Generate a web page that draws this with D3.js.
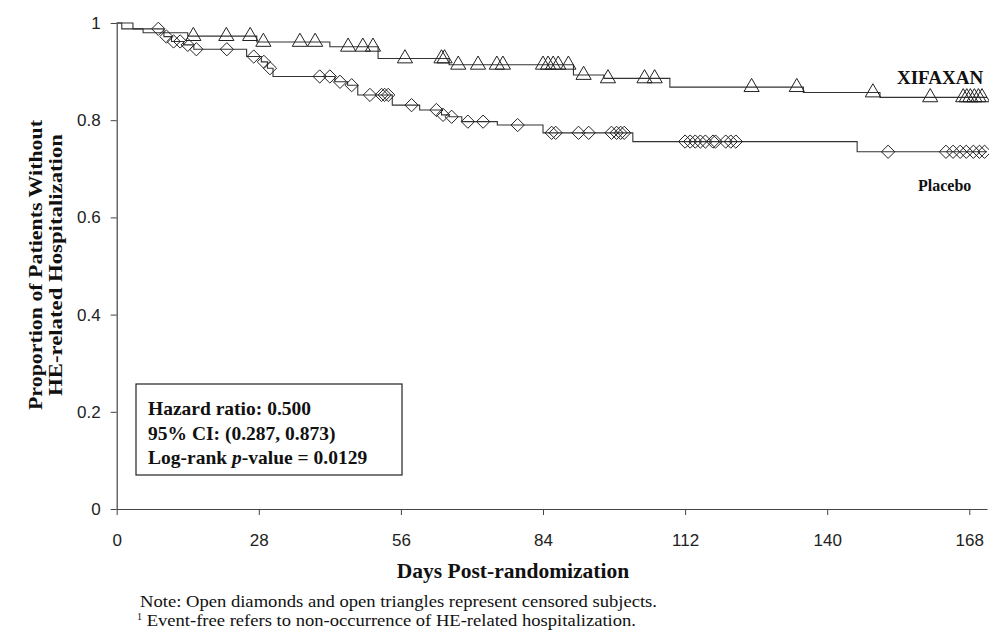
<!DOCTYPE html>
<html>
<head>
<meta charset="utf-8">
<script src="https://cdn.jsdelivr.net/npm/d3@7"></script>
<style>
  body { margin: 0; background: #fff; }
  svg { display: block; }
</style>
</head>
<body>
<script>
const xTicks = [0, 28, 56, 84, 112, 140, 168];
const yTicks = [0, 0.2, 0.4, 0.6, 0.8, 1];
const yTickLabels = ["0", "0.2", "0.4", "0.6", "0.8", "1"];

// [day, proportion event-free from that day on]
const xifaxanSteps = [[0, 1], [3.2, 0.988], [5.2, 0.98], [14, 0.973], [27.6, 0.961], [42, 0.951],
  [51.5, 0.927], [65.5, 0.914], [90, 0.893], [96, 0.886], [109, 0.868], [135.3, 0.857], [150.4, 0.847]];
const xifaxanCensored = [15.1, 21.6, 26.3, 28.9, 36.1, 39.1, 45.6, 48.5, 50.5, 56.8, 64, 64.6, 67.3,
  71.2, 74.9, 76.1, 84, 85, 86, 87, 89, 92, 96.8, 104, 106, 125.1, 134, 149, 160.3,
  166.8, 167.5, 168.2, 169, 169.8, 170.5];

const placeboSteps = [[0, 1], [1, 0.988], [9.3, 0.972], [10.8, 0.962], [13.2, 0.955], [15.2, 0.946],
  [25.6, 0.931], [28.5, 0.92], [29.7, 0.907], [30.8, 0.89], [43, 0.879], [45.5, 0.872], [47.5, 0.852],
  [54.3, 0.831], [59.7, 0.821], [64, 0.811], [65.5, 0.807], [68, 0.797], [75, 0.79], [84, 0.774],
  [101.7, 0.756], [145.9, 0.735]];
const placeboCensored = [8.2, 9.8, 11.2, 12.5, 14, 15.7, 21.7, 27, 29, 30.2, 40, 42, 44, 46.3, 49.9,
  52.2, 52.8, 53.5, 58.1, 63, 64.3, 66, 69.2, 72.2, 79, 85.7, 86.5, 91, 93, 97.5, 98.5, 99.3, 100,
  112, 113, 114, 115, 116, 117.5, 118, 120, 121, 122, 152, 163.4, 164.8, 166.2, 167.4, 168.8, 170, 171];

const lastDay = 171.5;
const statLines = ["Hazard ratio: 0.500", "95% CI: (0.287, 0.873)", "Log-rank |p|-value = 0.0129"];
const yTitle = ["Proportion of Patients Without", "HE-related Hospitalization"];
const notes = ["Note: Open diamonds and open triangles represent censored subjects.",
  "Event-free refers to non-occurrence of HE-related hospitalization."];

const w = 989, h = 633;
const serif = "'Liberation Serif', 'Times New Roman', serif";
const sans = "'Liberation Sans', Arial, sans-serif";

const svg = d3.select("body").append("svg").attr("width", w).attr("height", h);

const x = d3.scaleLinear().domain([0, lastDay]).range([116.7, 116.7 + lastDay * 5.075]);
const y = d3.scaleLinear().domain([0, 1]).range([509, 23]);

// axes
const xAxis = svg.append("g")
  .attr("transform", "translate(0,509)")
  .call(d3.axisBottom(x).tickValues(xTicks).tickSize(6).tickPadding(19).tickSizeOuter(0));
const yAxis = svg.append("g")
  .attr("transform", "translate(116.7,0)")
  .call(d3.axisLeft(y).tickValues(yTicks).tickFormat((d, i) => yTickLabels[i])
    .tickSize(6).tickPadding(10).tickSizeOuter(0));
[xAxis, yAxis].forEach(g => {
  g.select(".domain").attr("stroke", "#444").attr("stroke-width", 1.2);
  g.selectAll(".tick line").attr("stroke", "#444");
  g.selectAll(".tick text").attr("fill", "#222").style("font-family", sans).style("font-size", "17px");
});

// step lines + censored marks
const stepLine = d3.line().x(d => x(d[0])).y(d => y(d[1])).curve(d3.curveStepAfter);
const survAt = (steps, t) => steps.filter(s => s[0] <= t).pop()[1];

const diamond = {
  draw(ctx, size) {
    const r = Math.sqrt(size / 2);
    ctx.moveTo(0, -r); ctx.lineTo(r, 0); ctx.lineTo(0, r); ctx.lineTo(-r, 0); ctx.closePath();
  }
};

const groups = [
  { steps: xifaxanSteps, cens: xifaxanCensored, sym: d3.symbolTriangle, size: 100 },
  { steps: placeboSteps, cens: placeboCensored, sym: diamond, size: 88 }
];

groups.forEach(gr => {
  const pts = gr.steps.concat([[lastDay, gr.steps[gr.steps.length - 1][1]]]);
  svg.append("path").datum(pts)
    .attr("d", stepLine)
    .attr("fill", "none")
    .attr("stroke", "#333")
    .attr("stroke-width", 1.1);
  svg.append("g").selectAll("path")
    .data(gr.cens)
    .enter()
    .append("path")
    .attr("transform", d => `translate(${x(d)},${y(survAt(gr.steps, d))})`)
    .attr("d", d3.symbol().type(gr.sym).size(gr.size))
    .attr("fill", "none")
    .attr("stroke", "#222")
    .attr("stroke-width", 1);
});

// curve labels
svg.append("text").attr("x", 897).attr("y", 84).text("XIFAXAN")
  .style("font-family", serif).style("font-weight", "bold").style("font-size", "19px").attr("fill", "#111");
svg.append("text").attr("x", 918).attr("y", 191).text("Placebo")
  .style("font-family", serif).style("font-weight", "bold").style("font-size", "16px").attr("fill", "#111");

// stats box
svg.append("rect").attr("x", 136).attr("y", 384).attr("width", 266).attr("height", 91)
  .attr("fill", "#fff").attr("stroke", "#222").attr("stroke-width", 1.2);
const stats = svg.append("g").style("font-family", serif).style("font-weight", "bold")
  .style("font-size", "19.5px").attr("fill", "#111");
statLines.forEach((s, i) => {
  const t = stats.append("text").attr("x", 148).attr("y", 415 + i * 24.5);
  s.split("|").forEach((part, j) => {
    t.append("tspan").text(part).style("font-style", j === 1 ? "italic" : "normal");
  });
});

// axis titles
svg.append("text").attr("x", 513).attr("y", 578).attr("text-anchor", "middle")
  .text("Days Post-randomization")
  .style("font-family", serif).style("font-weight", "bold").style("font-size", "21.5px").attr("fill", "#111");
const yTitleLen = [290, 262];
yTitle.forEach((s, i) => {
  svg.append("text")
    .attr("transform", `translate(${42 + i * 20},265) rotate(-90)`)
    .attr("text-anchor", "middle")
    .attr("textLength", yTitleLen[i])
    .attr("lengthAdjust", "spacingAndGlyphs")
    .text(s)
    .style("font-family", serif).style("font-weight", "bold").style("font-size", "18px").attr("fill", "#111");
});

// notes
const noteG = svg.append("g").style("font-family", serif).style("font-size", "16px").attr("fill", "#111");
noteG.append("text").attr("x", 140).attr("y", 607).text(notes[0])
  .attr("textLength", 517).attr("lengthAdjust", "spacingAndGlyphs");
const n2 = noteG.append("text").attr("x", 137).attr("y", 626);
n2.append("tspan").text("1").style("font-size", "10px").attr("dy", -6);
n2.append("tspan").text(" " + notes[1]).attr("dy", 6)
  .attr("textLength", 494).attr("lengthAdjust", "spacingAndGlyphs");
</script>
</body>
</html>
